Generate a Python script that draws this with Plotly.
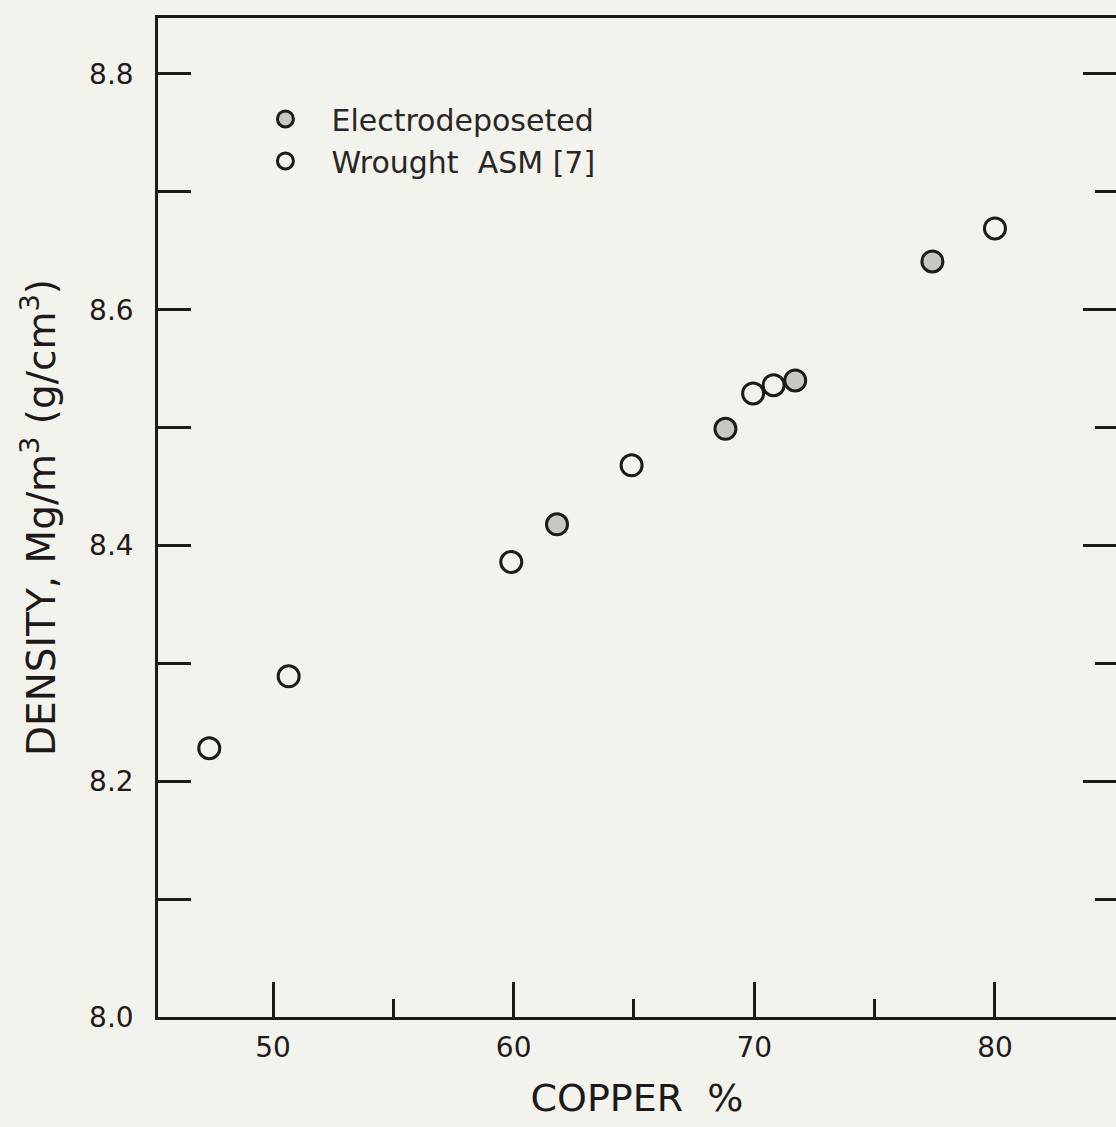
import plotly.graph_objects as go

# Electrodeposited specimens (shaded circles in the scan)
ed_copper = [61.8, 68.8, 71.7, 77.4]
ed_density = [8.418, 8.499, 8.540, 8.641]

# Wrought alloys, ASM [7]
wr_copper = [47.35, 50.65, 59.9, 64.9, 69.95, 70.8, 80.0]
wr_density = [8.228, 8.289, 8.386, 8.468, 8.529, 8.536, 8.669]

x_range = [45.22, 85.03]
y_range = [8.0, 8.8475]

ink = "#1e1a1a"
paper = "#f3f3ee"
font_family = "DejaVu Sans, Liberation Sans, sans-serif"

fig = go.Figure()
fig.add_trace(go.Scatter(
    x=ed_copper, y=ed_density, mode="markers", name="Electrodeposeted",
    marker=dict(symbol="circle", size=21, color="#c9c7c2",
                line=dict(color=ink, width=3)),
))
fig.add_trace(go.Scatter(
    x=wr_copper, y=wr_density, mode="markers", name="Wrought  ASM [7]",
    marker=dict(symbol="circle", size=21, color=paper,
                line=dict(color=ink, width=3)),
))
# invisible trace to carry right-side ticks
fig.add_trace(go.Scatter(x=[], y=[], yaxis="y2", showlegend=False))

fig.update_layout(
    width=1116, height=1127,
    margin=dict(l=158, r=0, t=18, b=110),
    paper_bgcolor=paper, plot_bgcolor=paper,
    font=dict(family=font_family, color=ink, size=28),
    showlegend=True,
    legend=dict(
        x=0.085, y=0.925, xanchor="left", yanchor="top",
        bgcolor="rgba(0,0,0,0)", borderwidth=0,
        font=dict(size=30, family=font_family, color="#2a2626"),
        itemwidth=82, tracegroupgap=0,
    ),
    xaxis=dict(
        range=x_range, dtick=10, tick0=0,
        ticks="inside", ticklen=35, tickwidth=2.5, tickcolor=ink,
        minor=dict(dtick=5, tick0=0, ticks="inside", ticklen=18, tickwidth=2.5, tickcolor=ink),
        showline=True, linecolor=ink, linewidth=2.5, mirror=True,
        showgrid=False, zeroline=False,
        ticklabelstandoff=4,
        tickfont=dict(size=28),
        title=dict(text="COPPER  %", font=dict(size=38), standoff=22),
    ),
    yaxis=dict(
        range=y_range, dtick=0.2, tick0=8.0, tickformat=".1f",
        ticks="inside", ticklen=33, tickwidth=2.5, tickcolor=ink,
        minor=dict(dtick=0.1, tick0=8.0, ticks="inside", ticklen=33, tickwidth=2.5, tickcolor=ink),
        showline=True, linecolor=ink, linewidth=2.5,
        showgrid=False, zeroline=False,
        ticklabelstandoff=16,
        tickfont=dict(size=28),
        title=dict(text="DENSITY, Mg/m<sup>3</sup> (g/cm<sup>3</sup>)", font=dict(size=39), standoff=22),
    ),
    yaxis2=dict(
        range=y_range, overlaying="y", side="right", matches="y",
        dtick=0.2, tick0=8.0,
        ticks="inside", ticklen=33, tickwidth=2.5, tickcolor=ink,
        minor=dict(dtick=0.1, tick0=8.0, ticks="inside", ticklen=21, tickwidth=2.5, tickcolor=ink),
        showticklabels=False, showline=False, showgrid=False, zeroline=False,
    ),
)

fig.write_html(
    "out.html",
    config={"displayModeBar": False},
    post_script="document.body.style.margin='0';"
                "document.documentElement.style.overflow='hidden';"
                "document.body.style.overflow='hidden';",
)
